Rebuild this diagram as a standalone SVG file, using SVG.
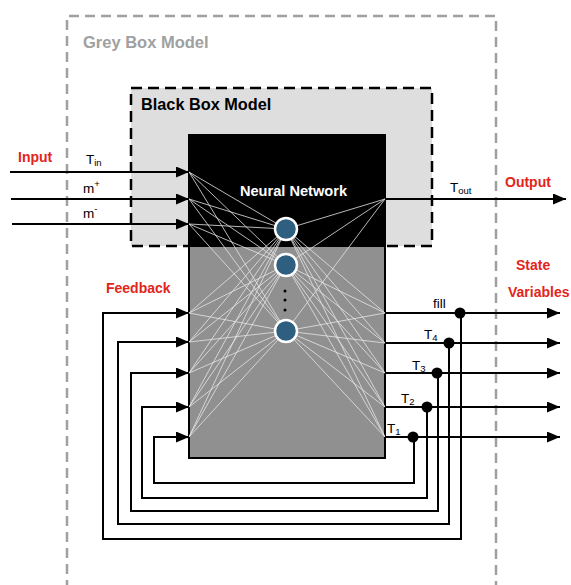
<svg xmlns="http://www.w3.org/2000/svg" width="571" height="585" viewBox="0 0 571 585">
<defs>
<style>
.lbl{font-family:"Liberation Sans",Arial,sans-serif;}
.red{font-family:"Liberation Sans",Arial,sans-serif;font-weight:bold;font-size:14px;fill:#e3241b;}
.var{font-family:"Liberation Sans",Arial,sans-serif;font-size:13.5px;fill:#000;}
.sub{font-size:9.5px;}
.wire{fill:none;stroke:#000;stroke-width:2;}
.net{fill:none;stroke:#e6e6e6;stroke-width:0.8;}
.neuron{fill:#2e5f80;stroke:#fff;stroke-width:2.5;}
</style>
<marker id="arr" markerWidth="13" markerHeight="11" refX="13" refY="5.5" orient="auto" markerUnits="userSpaceOnUse">
<path d="M0,0 L13,5.5 L0,11 z" fill="#000"/>
</marker>
</defs>
<rect width="571" height="585" fill="#fff"/>

<g id="grey-box">
<path d="M67,590 V16 H496 V590" fill="none" stroke="#a0a0a0" stroke-width="2.5" stroke-dasharray="10,6"/>
<text class="lbl" x="83" y="48" font-size="16.5" font-weight="bold" fill="#a0a0a0">Grey Box Model</text>
</g>

<g id="black-box">
<rect x="131" y="88" width="301" height="158" fill="#dedede" stroke="#000" stroke-width="2.5" stroke-dasharray="11,6"/>
<text class="lbl" x="141" y="110" font-size="16.3" font-weight="bold" fill="#000">Black Box Model</text>
</g>

<g id="neural-network">
<rect x="189" y="135" width="196" height="323" fill="#909090" stroke="#000" stroke-width="2"/>
<rect x="189" y="135" width="196" height="112" fill="#000"/>
<path class="net" d="M189,172L286,229M189,172L286,265M189,172L286,331M189,199L286,229M189,199L286,265M189,199L286,331M189,224L286,229M189,224L286,265M189,224L286,331M189,313L286,229M189,313L286,265M189,313L286,331M189,342L286,229M189,342L286,265M189,342L286,331M189,373L286,229M189,373L286,265M189,373L286,331M189,407L286,229M189,407L286,265M189,407L286,331M189,437L286,229M189,437L286,265M189,437L286,331M286,229L385,199M286,265L385,199M286,331L385,199M286,229L385,313M286,265L385,313M286,331L385,313M286,229L385,343M286,265L385,343M286,331L385,343M286,229L385,373M286,265L385,373M286,331L385,373M286,229L385,407M286,265L385,407M286,331L385,407M286,229L385,437M286,265L385,437M286,331L385,437"/>
<text class="lbl" x="293.5" y="196" font-size="14.6" font-weight="bold" fill="#fff" text-anchor="middle">Neural Network</text>
<circle class="neuron" cx="286" cy="229" r="11"/>
<circle class="neuron" cx="286" cy="265" r="11"/>
<circle class="neuron" cx="286" cy="331" r="11"/>
<circle cx="285" cy="291" r="1.5" fill="#000"/>
<circle cx="285" cy="300" r="1.5" fill="#000"/>
<circle cx="285" cy="310" r="1.5" fill="#000"/>
</g>

<g id="connectors">
<path class="wire" d="M10,172 H189" marker-end="url(#arr)"/>
<path class="wire" d="M11,199 H189" marker-end="url(#arr)"/>
<path class="wire" d="M12,224 H189" marker-end="url(#arr)"/>
<path class="wire" d="M385,199 H566" marker-end="url(#arr)"/>
<path class="wire" d="M385,313 H560" marker-end="url(#arr)"/>
<path class="wire" d="M385,343 H560" marker-end="url(#arr)"/>
<path class="wire" d="M385,373 H560" marker-end="url(#arr)"/>
<path class="wire" d="M385,407 H560" marker-end="url(#arr)"/>
<path class="wire" d="M385,437 H560" marker-end="url(#arr)"/>
<path class="wire" d="M461,313 V539 H103 V313 H189" marker-end="url(#arr)"/>
<path class="wire" d="M449,343 V524 H118 V342 H189" marker-end="url(#arr)"/>
<path class="wire" d="M438,373 V511 H131 V373 H189" marker-end="url(#arr)"/>
<path class="wire" d="M427,407 V498 H142 V407 H189" marker-end="url(#arr)"/>
<path class="wire" d="M414,437 V483 H154 V437 H189" marker-end="url(#arr)"/>
<circle cx="460" cy="313" r="5.5" fill="#000"/>
<circle cx="449" cy="343" r="5.5" fill="#000"/>
<circle cx="437" cy="373" r="5.5" fill="#000"/>
<circle cx="427" cy="407" r="5.5" fill="#000"/>
<circle cx="413" cy="437" r="5.5" fill="#000"/>
</g>

<g id="labels">
<text class="red" x="18" y="162">Input</text>
<text class="red" x="505" y="187">Output</text>
<text class="red" x="516" y="270">State</text>
<text class="red" x="508" y="297">Variables</text>
<text class="red" x="106" y="293">Feedback</text>
<text class="var" x="86" y="164">T<tspan class="sub" dy="2">in</tspan></text>
<text class="var" x="83" y="193">m<tspan class="sub" dy="-6">+</tspan></text>
<text class="var" x="83" y="218">m<tspan class="sub" dy="-6">-</tspan></text>
<text class="var" x="450" y="192">T<tspan class="sub" dy="2">out</tspan></text>
<text class="var" x="433" y="308">fill</text>
<text class="var" x="424" y="339">T<tspan class="sub" dy="2">4</tspan></text>
<text class="var" x="412" y="370">T<tspan class="sub" dy="2">3</tspan></text>
<text class="var" x="401" y="403">T<tspan class="sub" dy="2">2</tspan></text>
<text class="var" x="387" y="433">T<tspan class="sub" dy="2">1</tspan></text>
</g>
</svg>
